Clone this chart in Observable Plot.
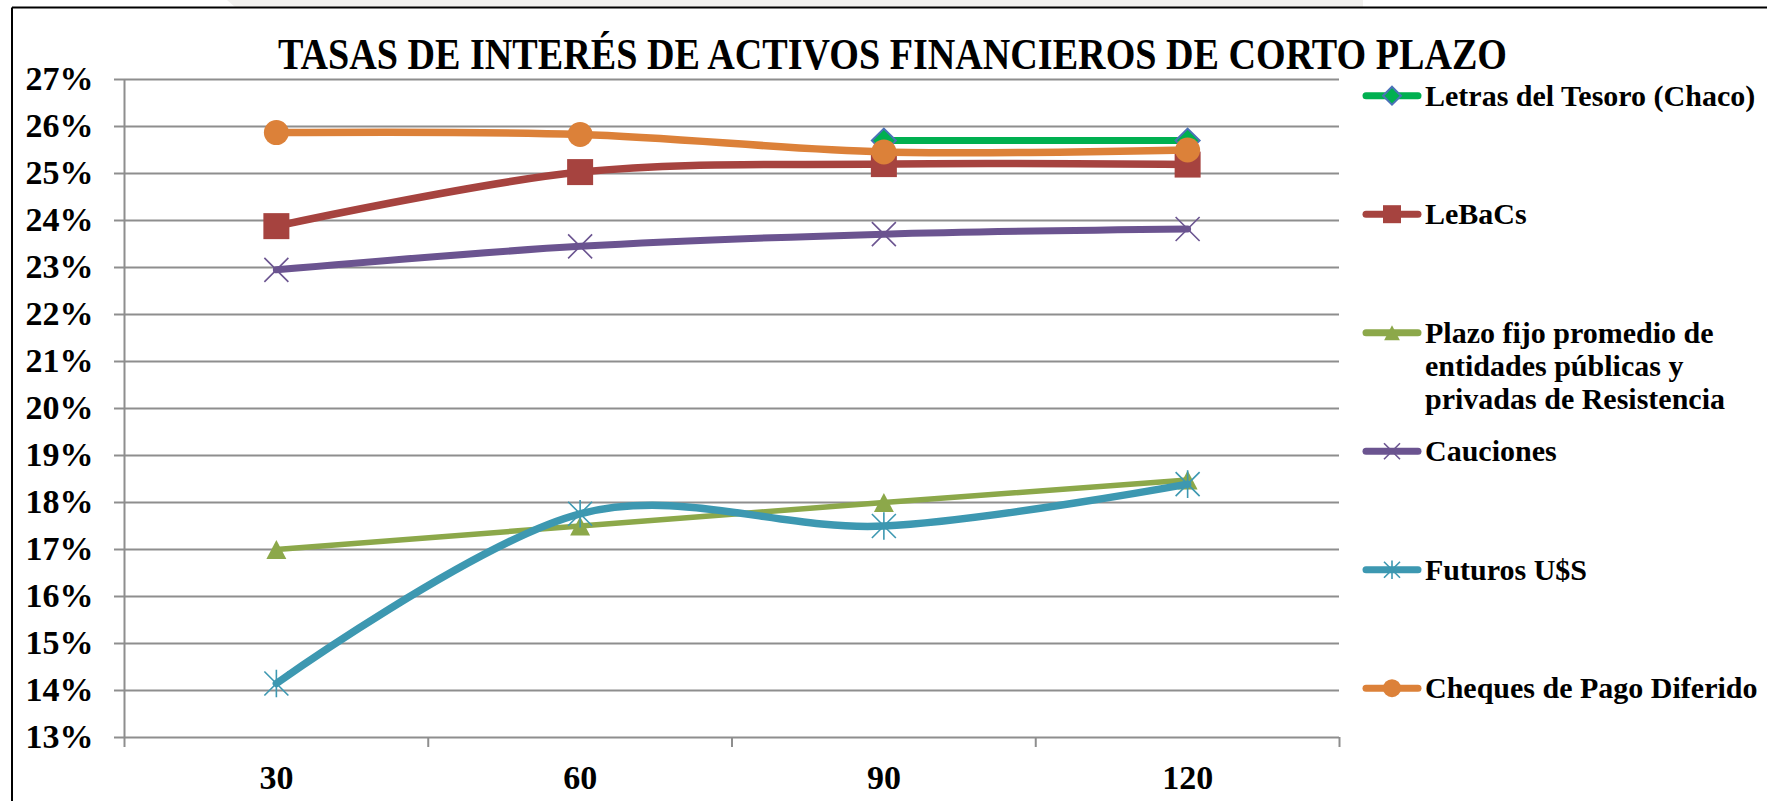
<!DOCTYPE html>
<html>
<head>
<meta charset="utf-8">
<script src="https://cdn.jsdelivr.net/npm/d3@7"></script>
<script src="https://cdn.jsdelivr.net/npm/@observablehq/plot@0.6"></script>
<style>
html, body { margin: 0; padding: 0; background: #fff; }
#wrap { position: relative; width: 1767px; height: 801px; overflow: hidden; background: #fff; }
#deco, #chart { position: absolute; left: 0; top: 0; }
#deco text { font-family: "Liberation Serif", serif; font-weight: bold; fill: #000; }
</style>
</head>
<body>
<div id="wrap">
  <svg id="deco" width="1767" height="801"></svg>
  <div id="chart"></div>
</div>
<script>
// ---------- DATA ----------
const plazos = [30, 60, 90, 120];
const letrasTesoro = [null, null, 25.7, 25.7];
const lebacs = [23.88, 25.03, 25.2, 25.19];
const plazoFijo = [17.0, 17.5, 18.0, 18.48];
const cauciones = [22.95, 23.45, 23.71, 23.82];
const futuros = [14.15, 17.76, 17.5, 18.39];
const cheques = [25.87, 25.83, 25.46, 25.5];
const nombres = [
  "Letras del Tesoro (Chaco)",
  "LeBaCs",
  "Plazo fijo promedio de entidades públicas y privadas de Resistencia",
  "Cauciones",
  "Futuros U$S",
  "Cheques de Pago Diferido"
];
const leyendaLineas = [
  ["Letras del Tesoro (Chaco)"],
  ["LeBaCs"],
  ["Plazo fijo promedio de", "entidades públicas y", "privadas de Resistencia"],
  ["Cauciones"],
  ["Futuros U$S"],
  ["Cheques de Pago Diferido"]
];
const yTicks = d3.range(13, 28);
const titulo = "TASAS DE INTERÉS DE ACTIVOS FINANCIEROS DE CORTO PLAZO";

// ---------- SYMBOLS (size = PI r^2, h = r) ----------
const H = s => Math.sqrt(s / Math.PI);
const symDiamond = { draw(c, s) { const h = H(s); c.moveTo(0, -h); c.lineTo(h, 0); c.lineTo(0, h); c.lineTo(-h, 0); c.closePath(); } };
const symSquare = { draw(c, s) { const h = H(s); c.moveTo(-h, -h); c.lineTo(h, -h); c.lineTo(h, h); c.lineTo(-h, h); c.closePath(); } };
const symTriangle = { draw(c, s) { const h = H(s); c.moveTo(0, -h); c.lineTo(1.05 * h, h); c.lineTo(-1.05 * h, h); c.closePath(); } };
const symTimes = { draw(c, s) { const h = H(s); c.moveTo(-h, -h); c.lineTo(h, h); c.moveTo(h, -h); c.lineTo(-h, h); } };
const symStar = { draw(c, s) { const h = H(s); c.moveTo(-h, -h); c.lineTo(h, h); c.moveTo(h, -h); c.lineTo(-h, h); c.moveTo(0, -h * 1.15); c.lineTo(0, h * 1.15); } };
const symCircle = { draw(c, s) { const h = H(s); c.moveTo(h, 0); c.arc(0, 0, h, 0, 2 * Math.PI); } };

const valores = [letrasTesoro, lebacs, plazoFijo, cauciones, futuros, cheques];
const estilos = [
  { color: "#00B050", width: 7,   curve: "linear",   sym: symDiamond,  r: 12,   lr: 9,   fill: "#00B050", stroke: "#4A72B8", sw: 2 },
  { color: "#A6433F", width: 7.5, curve: "cardinal", sym: symSquare,   r: 13,   lr: 9,   fill: "#A6433F", stroke: "none",    sw: 0 },
  { color: "#8CA84A", width: 5.5, curve: "linear",   sym: symTriangle, r: 9.5,  lr: 7.5, fill: "#8CA84A", stroke: "none",    sw: 0 },
  { color: "#6B5490", width: 7,   curve: "cardinal", sym: symTimes,    r: 12,   lr: 8,   fill: "none",    stroke: "#6B5490", sw: 1.6 },
  { color: "#3D98B1", width: 7.5, curve: "cardinal", sym: symStar,     r: 12,   lr: 8,   fill: "none",    stroke: "#3D98B1", sw: 1.6 },
  { color: "#DC8139", width: 7.5, curve: "cardinal", sym: symCircle,   r: 12.5, lr: 9,   fill: "#DC8139", stroke: "none",    sw: 0 }
];

const filas = [];
valores.forEach((vals, i) => plazos.forEach((p, j) => {
  if (vals[j] != null) filas.push({ serie: nombres[i], plazo: p, tasa: vals[j] });
}));

// ---------- PLOT ----------
const W = 1767, HT = 801;
const fontOpts = { fontFamily: '"Liberation Serif", serif', fontWeight: "bold" };
const gris = "#8e8e8e";
const marks = [
  Plot.gridY(yTicks, { stroke: gris, strokeOpacity: 1, strokeWidth: 2 }),
  Plot.axisY(yTicks, { tickSize: 10, tickPadding: 21, stroke: gris, strokeWidth: 2, tickFormat: d => d + "%", fontSize: 34, ...fontOpts, fill: "#000", label: null }),
  Plot.ruleX([15], { stroke: gris, strokeWidth: 2 }),
  Plot.axisX([15, 45, 75, 105, 135], { tickSize: 10, stroke: gris, strokeWidth: 2, tickFormat: () => "", label: null }),
  Plot.axisX(plazos, { tickSize: 0, tickPadding: 27, fontSize: 34, ...fontOpts, fill: "#000", label: null })
];
nombres.forEach((n, i) => {
  const e = estilos[i];
  const d = filas.filter(f => f.serie === n);
  marks.push(Plot.line(d, { x: "plazo", y: "tasa", stroke: e.color, strokeWidth: e.width, curve: e.curve, strokeLinecap: "round", strokeLinejoin: "round" }));
  marks.push(Plot.dot(d, { x: "plazo", y: "tasa", symbol: e.sym, r: e.r, fill: e.fill, stroke: e.stroke, strokeWidth: e.sw }));
});

const plot = Plot.plot({
  width: W,
  height: HT,
  marginLeft: 124,
  marginRight: 428,
  marginTop: 79,
  marginBottom: 64,
  x: { type: "linear", domain: [15, 135], axis: null },
  y: { type: "linear", domain: [13, 27], axis: null },
  style: { background: "transparent", overflow: "visible", color: "#000" },
  marks
});
document.getElementById("chart").append(plot);

// ---------- DECORATION: band, frame, title, legend ----------
const deco = d3.select("#deco");
deco.append("polygon").attr("points", "227,0 1363,0 1363,7 235,7").attr("fill", "#f2f1ef");
deco.append("line").attr("x1", 12).attr("x2", W).attr("y1", 7.5).attr("y2", 7.5).attr("stroke", "#000").attr("stroke-width", 2);
deco.append("line").attr("x1", 12).attr("x2", 12).attr("y1", 7.5).attr("y2", HT).attr("stroke", "#000").attr("stroke-width", 2);

deco.append("text")
  .attr("x", 892.5).attr("y", 68.5)
  .attr("text-anchor", "middle")
  .attr("font-size", 44)
  .attr("textLength", 1229)
  .attr("lengthAdjust", "spacingAndGlyphs")
  .text(titulo);

const leg0 = 95.7, legStep = 118.5;
leyendaLineas.forEach((lineas, i) => {
  const e = estilos[i];
  const y = leg0 + i * legStep;
  const g = deco.append("g");
  g.append("line").attr("x1", 1366).attr("x2", 1418).attr("y1", y).attr("y2", y)
    .attr("stroke", e.color).attr("stroke-width", 7).attr("stroke-linecap", "round");
  g.append("path").attr("transform", `translate(1392,${y})`)
    .attr("d", d3.symbol(e.sym, Math.PI * e.lr * e.lr)())
    .attr("fill", e.fill).attr("stroke", e.stroke).attr("stroke-width", e.sw);
  lineas.forEach((t, k) => {
    g.append("text").attr("x", 1425).attr("y", y + 10 + k * 33).attr("font-size", 30).text(t);
  });
});
</script>
</body>
</html>
